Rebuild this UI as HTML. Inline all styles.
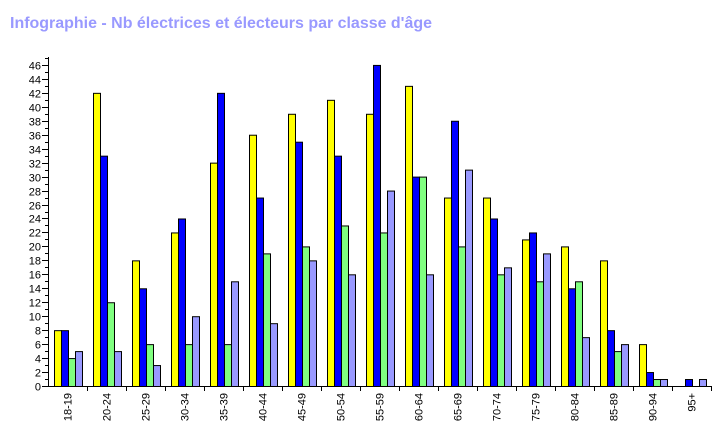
<!DOCTYPE html>
<html><head><meta charset="utf-8"><style>
body{margin:0;background:#fff;}
svg{display:block;font-family:"Liberation Sans",Arial,sans-serif;}
</style></head><body>
<svg id="chart" width="728" height="429" viewBox="0 0 728 429">
<text x="10" y="28" font-size="16" font-weight="bold" fill="#9999ff" textLength="422" lengthAdjust="spacingAndGlyphs">Infographie - Nb électrices et électeurs par classe d'âge</text>
<g id="plot"></g>
</svg>
<script>
const categories=["18-19","20-24","25-29","30-34","35-39","40-44","45-49","50-54","55-59","60-64","65-69","70-74","75-79","80-84","85-89","90-94","95+"];
const series1=[8,42,18,22,32,36,39,41,39,43,27,27,21,20,18,6,0];
const series2=[8,33,14,24,42,27,35,33,46,30,38,24,22,14,8,2,1];
const series3=[4,12,6,6,6,19,20,23,22,30,20,16,15,15,5,1,0];
const series4=[5,5,3,10,15,9,18,16,28,16,31,17,19,7,6,1,1];
const yTicks=[0,2,4,6,8,10,12,14,16,18,20,22,24,26,28,30,32,34,36,38,40,42,44,46];
const colors=["#ffff00","#0000ff","#80ff80","#9999ff"];
const NS="http://www.w3.org/2000/svg";
const g=document.getElementById('plot');
const x0=48,y0=386,unit=6.98,groupW=39,barW=7,barOff=6;
const y=v=>y0-v*unit;
const xg=i=>x0+i*groupW;
function mk(t,a){const e=document.createElementNS(NS,t);for(const k in a)e.setAttribute(k,a[k]);g.appendChild(e);return e;}
[series1,series2,series3,series4].forEach((s,si)=>{
  s.forEach((v,i)=>{
    if(v<=0)return;
    const r=mk('rect',{x:xg(i)+barOff+si*barW+0.5,y:y(v)+0.5,width:barW,height:v*unit,fill:colors[si],stroke:'#000','stroke-width':1});
    
    
  });
});
let ax=mk('line',{x1:x0+0.5,y1:57,x2:x0+0.5,y2:y0+0.5,stroke:'#000'});


let bx=mk('line',{x1:x0,y1:y0+0.5,x2:xg(categories.length),y2:y0+0.5,stroke:'#000'});


for(let v=1;v<=47;v+=2){const yy=Math.round(y(v))+0.5;const t=mk('line',{x1:x0-3,y1:yy,x2:x0,y2:yy,stroke:'#000'});}
yTicks.forEach(v=>{
  const yy=Math.round(y(v))+0.5;
  const t=mk('line',{x1:x0-6,y1:yy,x2:x0,y2:yy,stroke:'#000'});
  
  
  const l=mk('text',{x:x0-7,y:yy+4,'font-size':11,'text-anchor':'end',fill:'#000'});
  l.textContent=v;
  
  
});
categories.forEach((c,i)=>{
  const xx=Math.round(xg(i+1))+0.5;
  const t=mk('line',{x1:xx,y1:y0,x2:xx,y2:y0+5,stroke:'#000'});
  
  
  const cx=xg(i)+groupW/2+4;
  const l=mk('text',{x:cx,y:393,'font-size':11,'text-anchor':'end',fill:'#000',transform:`rotate(-90 ${cx} 393)`});
  l.textContent=c;
  
  
});
</script>
</body></html>
